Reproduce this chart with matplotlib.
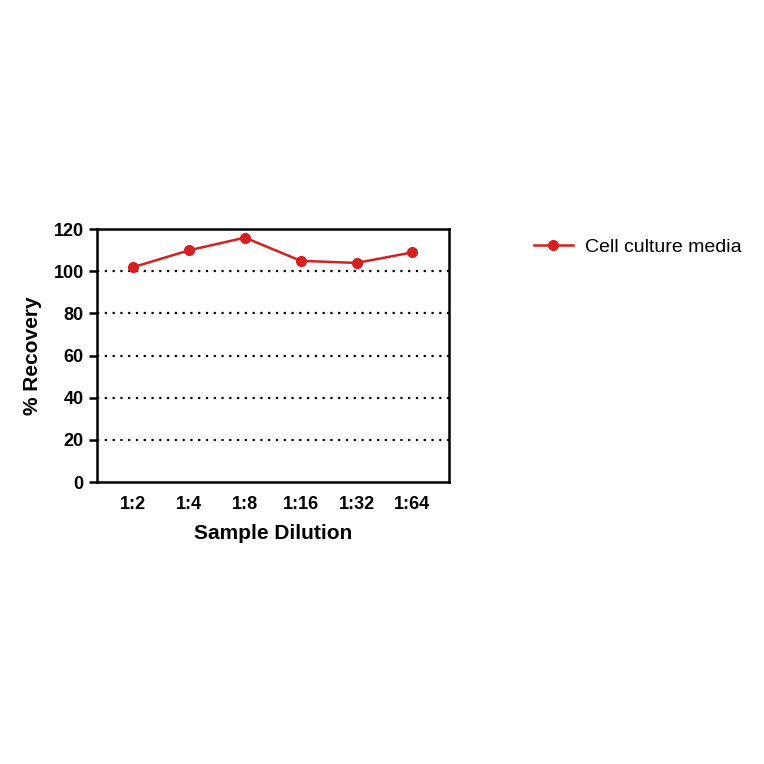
import matplotlib.pyplot as plt

plt.rcParams['font.family'] = ['Liberation Sans', 'DejaVu Sans']

dilutions = ["1:2", "1:4", "1:8", "1:16", "1:32", "1:64"]
recovery = [102, 110, 116, 105, 104, 109]
yticks = [0, 20, 40, 60, 80, 100, 120]

fig = plt.figure(figsize=(7.64, 7.64), dpi=100)
ax = fig.add_axes([0.127, 0.369, 0.461, 0.331])

for y in yticks[1:-1]:
    ax.axhline(y, color='black', linestyle=(0, (1, 2.5)), linewidth=1.6, zorder=1)

ax.plot(range(len(dilutions)), recovery, color='#d42020', marker='o',
        markersize=7, linewidth=1.8, label='Cell culture media', zorder=3)

ax.set_xlim(-0.65, 5.66)
ax.set_ylim(0, 120)
ax.set_yticks(yticks)
ax.set_xticks(range(len(dilutions)))
ax.set_xticklabels(dilutions)
for s in ax.spines.values():
    s.set_linewidth(1.8)
ax.tick_params(axis='y', width=1.8, length=6, labelsize=13)
ax.tick_params(axis='x', length=0, labelsize=13, pad=10)
for lbl in ax.get_xticklabels() + ax.get_yticklabels():
    lbl.set_fontweight('bold')
ax.set_xlabel("Sample Dilution", fontsize=15, fontweight='bold', labelpad=8)
ax.set_ylabel("% Recovery", fontsize=15, fontweight='bold', labelpad=8)

fig.legend(loc='center left', bbox_to_anchor=(0.676, 0.677), frameon=False,
           fontsize=14, handletextpad=0.6)

fig.savefig("out.png", dpi=100)
